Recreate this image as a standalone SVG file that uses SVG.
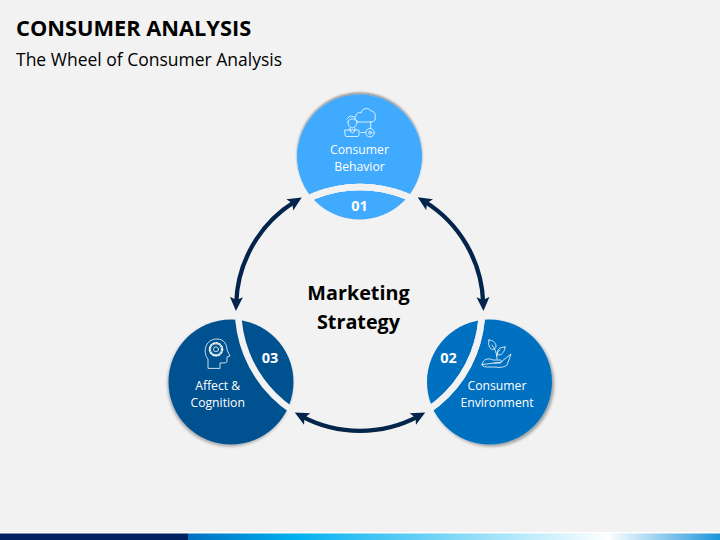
<svg xmlns="http://www.w3.org/2000/svg" width="720" height="540" viewBox="0 0 720 540">
<defs>
<style>
text{font-family:"Open Sans","Liberation Sans",sans-serif}
.t{font-size:12.200px;fill:#fff;text-anchor:middle}
.n{font-size:14.500px;font-weight:700;fill:#fff;text-anchor:middle}
.m{font-size:19.800px;font-weight:700;fill:#000;text-anchor:middle}
.band{fill:none;stroke:#f2f2f2;stroke-width:6.500}
.ic{fill:none;stroke:#fff;stroke-width:.8;stroke-linejoin:round;stroke-linecap:round}
.ar{fill:none;stroke:#03254c;stroke-width:4.300;marker-start:url(#h);marker-end:url(#h)}
</style>
<marker id="h" viewBox="0 0 14 14" refX="6" refY="7" markerWidth="14" markerHeight="14" markerUnits="userSpaceOnUse" orient="auto-start-reverse"><path d="M0 0.500L14 7L0 13.500L3 7Z" fill="#03254c"/></marker>
<linearGradient id="bar" x1="0" x2="1" y1="0" y2="0"><stop offset="0" stop-color="#0070c0"/><stop offset=".2" stop-color="#00b0f0"/><stop offset=".79" stop-color="#fff"/><stop offset="1" stop-color="#1b95dc"/></linearGradient>
<filter id="s1" x="-20%" y="-20%" width="140%" height="140%"><feDropShadow dx="0" dy="-2" stdDeviation="1.200" flood-color="#000" flood-opacity=".4"/></filter>
<filter id="s2" x="-20%" y="-20%" width="140%" height="140%"><feDropShadow dx="2" dy="2" stdDeviation="1.800" flood-color="#000" flood-opacity=".35"/></filter>
<filter id="s3" x="-20%" y="-20%" width="140%" height="140%"><feDropShadow dx="-1" dy="2" stdDeviation="1.800" flood-color="#000" flood-opacity=".3"/></filter>
</defs>
<rect width="720" height="540" fill="#f2f2f2"/>
<g id="footer"><rect y="532" width="720" height="1.500" fill="#fff"/><rect y="533.500" width="188" height="6.500" fill="#002060"/><rect x="188" y="533.500" width="532" height="6.500" fill="url(#bar)"/></g>
<g id="title"><text x="16" y="36" font-size="21.800" font-weight="700" fill="#000">CONSUMER ANALYSIS</text><text x="16" y="65.500" font-size="17.500" fill="#000">The Wheel of Consumer Analysis</text></g>
<g id="node-1">
<circle cx="359.500" cy="157" r="62.500" fill="#40aaff" filter="url(#s1)"/>
<circle class="band" cx="360" cy="309" r="122"/>
<g class="ic">
<path d="M358 122H371M358 122C355 121 354 118 356 116C356 113 359 112 361 113C362 108 369 107 371 111C374 111 376 114 375 117C376 120 374 122 371 122"/>
<path d="M348 122C348 118 356 118 357 121C357 124 356 127 352.500 128C349 127 348 125 348 122ZM347 119L350 116L355 117"/>
<path d="M350 128V131L352.500 133L355 131V128M345 130H359V135A1.500 1.500 0 0 1 357.500 136.500H346.500A1.500 1.500 0 0 1 345 135Z"/>
<path d="M361 132.500H365M370.700 122V128.500"/><circle cx="370" cy="132.700" r="4.200"/><circle cx="370" cy="132.700" r="1.400"/>
</g>
<text class="t" x="359.500" y="154">Consumer</text><text class="t" x="359.500" y="171">Behavior</text>
<text class="n" x="359.500" y="211">01</text>
</g>
<g id="node-2">
<circle cx="489.500" cy="382" r="62.500" fill="#0070c0" filter="url(#s2)"/>
<circle class="band" cx="360" cy="309" r="122"/>
<g class="ic">
<path d="M482 365C483 358 489 358 493 360L500 360C502 360 502 363 500 363H494M501 362L511 354L507 365C505 367 500 368 495 367L489 367C486 367 483 367 482 365Z"/>
<path d="M497 359C497 353 495 349 492 345M497 356C497 353 498 351 500 350"/>
<path d="M489 340C493 340 496 343 496 346C496 349 493 350 491 349C489 347 488 344 489 340ZM505 347C505 351 502 355 499 355C497 355 497 352 498 350C499 348 502 347 505 347Z"/>
</g>
<text class="t" x="497" y="390">Consumer</text><text class="t" x="497" y="407">Environment</text>
<text class="n" x="448.500" y="363">02</text>
</g>
<g id="node-3">
<circle cx="231" cy="382" r="62.500" fill="#00518f" filter="url(#s3)"/>
<circle class="band" cx="360" cy="309" r="122"/>
<g class="ic">
<path d="M208 368V359C203 354 204 339 217 339C225 339 227 346 227 350L230 356L227 357V361C227 363 225 363 221 363H220V368Z"/>
<circle cx="216" cy="349.300" r="2.500"/><circle cx="216" cy="349.300" r="5.500"/><circle cx="216" cy="349.300" r="6.500" stroke-dasharray="1.500 1.500" stroke-width="1.500"/>
</g>
<text class="t" x="217.700" y="390">Affect &amp;</text><text class="t" x="217.700" y="407">Cognition</text>
<text class="n" x="270" y="363">03</text>
</g>
<g id="center"><text class="m" x="358.500" y="299.500">Marketing</text><text class="m" x="358.500" y="328.500">Strategy</text></g>
<g id="connectors">
<path class="ar" d="M236.200 303A124 124 0 0 1 294.900 201.700"/>
<path class="ar" d="M424.500 201.500A124 124 0 0 1 483.200 303"/>
<path class="ar" d="M301.800 416.300A124 124 0 0 0 418.200 416.300"/>
</g>
</svg>
